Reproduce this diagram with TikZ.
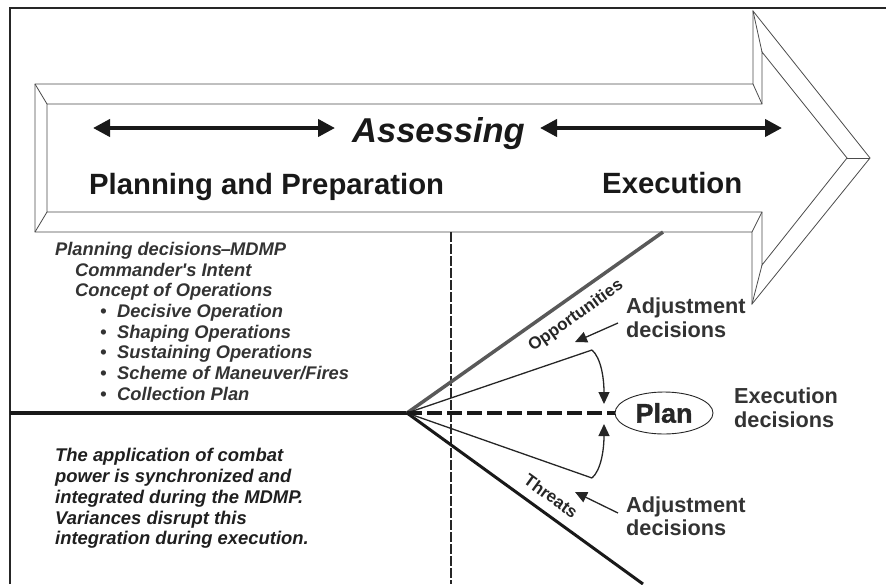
\documentclass[tikz,border=0pt]{standalone}
\usepackage{fontspec}
\setmainfont{Liberation Sans}
\newfontfamily\planfont[FakeBold=1.2]{Liberation Sans Bold}
\usetikzlibrary{arrows.meta,shapes.geometric}
\begin{document}
\begin{tikzpicture}[x=1pt,y=-1pt,
  frame/.style={draw=black!85, line width=2pt},
  bevel/.style={draw=black!70, line width=0.8pt, line join=miter},
  bigarr/.style={line width=4pt, draw=black!90, {Triangle[length=17pt,width=17pt]}-{Triangle[length=17pt,width=17pt]}},
  txt/.style={anchor=base west, inner sep=0pt},
  headfont/.style={font=\bfseries\fontsize{29.3}{33}\selectfont, text=black!90},
  listfont/.style={font=\bfseries\itshape\fontsize{18.3}{20.7}\selectfont, text=black!80},
  bodyfont/.style={font=\bfseries\itshape\fontsize{18.4}{20.7}\selectfont, text=black!88},
  sidefont/.style={font=\bfseries\fontsize{21.7}{24}\selectfont, text=black!80},
  lblfont/.style={font=\bfseries\fontsize{17}{20}\selectfont, text=black!85},
  thin/.style={draw=black!85, line width=1.3pt},
  smallarr/.style={draw=black!85, line width=1.3pt, -{Triangle[length=12pt,width=11pt]}}
]
\useasboundingbox (0,0) rectangle (886,584);
% frame
\draw[frame] (9.5,584) -- (9.5,8) -- (886,8);
% big arrow outer and inner outlines
\draw[bevel, fill=white] (35,84) -- (753,84) -- (753,11) -- (870,158) -- (752,304) -- (752,232) -- (35,232) -- cycle;
\draw[bevel] (47,104) -- (762,104) -- (762,52) -- (847,158) -- (762,265) -- (762,212) -- (47,212) -- cycle;
\draw[bevel] (35,84) -- (47,104);
\draw[bevel] (35,232) -- (47,212);
\draw[bevel] (753,84) -- (762,104);
\draw[bevel] (753,11) -- (762,52);
\draw[bevel] (870,158) -- (847,158);
\draw[bevel] (752,304) -- (762,265);
\draw[bevel] (752,232) -- (762,212);
% assessing
\coordinate (a1) at (93,128);
\coordinate (a2) at (335,128);
\coordinate (a3) at (540,128);
\coordinate (a4) at (782,128);
\draw[bigarr] (a1) -- (a2);
\draw[bigarr] (a3) -- (a4);
\node[txt, font=\bfseries\itshape\fontsize{34.5}{40}\selectfont, text=black!90] (assess) at (352,142) {Assessing};
\node[txt, headfont] (pp) at (89,194) {Planning and Preparation};
\node[txt, headfont] (exe) at (602,193) {Execution};
% planning text
\node[txt, listfont] (l1) at (55,255) {Planning decisions{\kern-1pt}–{\kern-1pt}MDMP};
\node[txt, listfont] (l2) at (75,276) {Commander\textquotesingle s Intent};
\node[txt, listfont] (l3) at (75,296.5) {Concept of Operations};
\node[txt, listfont] (b1) at (100,317) {•};
\node[txt, listfont] (l4) at (117,317) {Decisive Operation};
\node[txt, listfont] (b2) at (100,338) {•};
\node[txt, listfont] (l5) at (117,338) {Shaping Operations};
\node[txt, listfont] (b3) at (100,358.5) {•};
\node[txt, listfont] (l6) at (117,358.5) {Sustaining Operations};
\node[txt, listfont] (b4) at (100,379) {•};
\node[txt, listfont] (l7) at (117,379) {Scheme of Maneuver/Fires};
\node[txt, listfont] (b5) at (100,400) {•};
\node[txt, listfont] (l8) at (117,400) {Collection Plan};
% body text
\node[txt, bodyfont] (t1) at (55,461.7) {The application of combat};
\node[txt, bodyfont] (t2) at (55,482.5) {power is synchronized and};
\node[txt, bodyfont] (t3) at (55,503.2) {integrated during the MDMP.};
\node[txt, bodyfont] (t4) at (55,524) {Variances disrupt this};
\node[txt, bodyfont] (t5) at (55,544.5) {integration during execution.};
% lines
\coordinate (left) at (9.5,413);
\coordinate (apex) at (407,413);
\coordinate (opp) at (663,232);
\coordinate (thr) at (643,584);
\coordinate (vtop) at (451,232);
\coordinate (vbot) at (451,584);
\coordinate (up) at (592,350);
\coordinate (lo) at (592,478);
\coordinate (uptip) at (604,404);
\coordinate (lotip) at (604,424);
\draw[black!90, line width=4pt] (left) -- (apex);
\draw[black!85, line width=2pt, dash pattern=on 10pt off 2pt] (vtop) -- (vbot);
\draw[black!65, line width=3.5pt] (apex) -- (opp);
\draw[black!90, line width=3pt] (apex) -- (thr);
\draw[thin] (apex) -- (up);
\draw[thin] (apex) -- (lo);
\node[draw=black!85, line width=0.9pt, ellipse, minimum width=98pt, minimum height=42pt, inner sep=0pt, font=\planfont\fontsize{27}{30}\selectfont, text=black!85] (plan) at (664,413) {Plan};
\draw[black!90, line width=4pt, dash pattern=on 15pt off 5pt] (apex) -- (plan.west);
\draw[smallarr] (up) .. controls (601,358) and (604,378) .. (uptip);
\draw[smallarr] (lo) .. controls (601,470) and (604,450) .. (lotip);
% labels
\node[lblfont, rotate=35.3, inner sep=0pt] (oppl) at (576,316) {Opportunities};
\node[lblfont, rotate=-35.9, inner sep=0pt] (thrl) at (551,496) {Threats};
\node[txt, sidefont] (adj1) at (626,313) {Adjustment};
\node[txt, sidefont] (adj1b) at (626,337) {decisions};
\node[txt, sidefont] (adj2) at (626,512) {Adjustment};
\node[txt, sidefont] (adj2b) at (626,535.5) {decisions};
\node[txt, sidefont] (exd) at (734,403) {Execution};
\node[txt, sidefont] (exdb) at (734,427) {decisions};
\coordinate (s1) at (618,323);
\coordinate (s1t) at (575,342);
\coordinate (s2) at (618,513);
\coordinate (s2t) at (575,492);
\draw[smallarr] (s1) -- (s1t);
\draw[smallarr] (s2) -- (s2t);
\end{tikzpicture}
\end{document}
